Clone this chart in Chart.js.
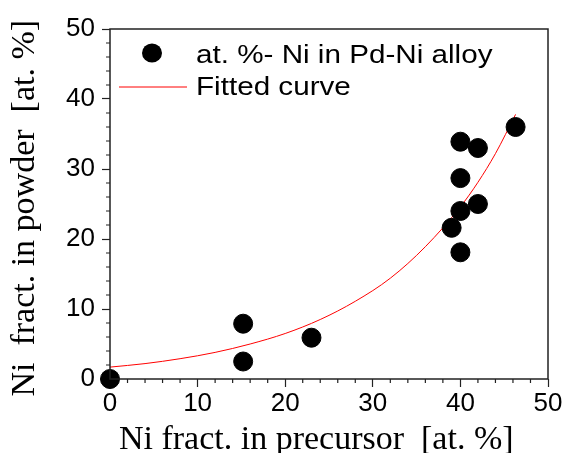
<!DOCTYPE html>
<html>
<head>
<meta charset="utf-8">
<script src="https://cdn.jsdelivr.net/npm/chart.js@4.4.1/dist/chart.umd.min.js"></script>
<style>
  html, body { margin: 0; padding: 0; background: #fff; }
  #wrap { width: 564px; height: 453px; }
</style>
</head>
<body>
<div id="wrap"><canvas id="niChart" width="564" height="453"></canvas></div>
<script>
// measured points: Ni in precursor vs Ni in powder (at. %)
const precursorNi = [0, 15.2, 15.2, 23.0, 39.0, 40.0, 40.0, 40.0, 40.0, 42.0, 42.0, 46.3];
const powderNi = [0, 7.9, 2.5, 5.9, 21.6, 18.1, 24.0, 28.7, 33.9, 33.0, 25.0, 36.0];

// fitted curve
const fitX = [0, 4, 8, 12, 16, 20, 24, 28, 32, 36, 40, 42, 44, 46.3];
const fitY = [1.7, 2.2, 2.9, 3.8, 5.0, 6.5, 8.5, 11.1, 14.4, 18.9, 24.6, 28.1, 32.2, 37.8];

const axisTicks = [0, 10, 20, 30, 40, 50];
const legendLabels = ['at. %- Ni in Pd-Ni alloy', 'Fitted curve'];

const sans = 'Liberation Sans, Arial, sans-serif';
const serif = 'Liberation Serif, Times New Roman, serif';

// box + minor ticks + legend inside the plot
const frameAndLegend = {
    id: 'frameAndLegend',
    afterDraw(chart) {
        const ctx = chart.ctx;
        const a = chart.chartArea;
        const xs = chart.scales.x, ys = chart.scales.y;
        ctx.save();
        ctx.strokeStyle = '#222';
        ctx.lineWidth = 1.5;
        ctx.strokeRect(a.left, a.top, a.right - a.left, a.bottom - a.top);

        // minor ticks every 2
        ctx.lineWidth = 1.2;
        ctx.beginPath();
        for (let v = axisTicks[0]; v <= axisTicks[axisTicks.length - 1]; v += 2) {
            if (v % 10 === 0) continue;
            const px = xs.getPixelForValue(v);
            ctx.moveTo(px, a.bottom);
            ctx.lineTo(px, a.bottom + 4);
            const py = ys.getPixelForValue(v);
            ctx.moveTo(a.left, py);
            ctx.lineTo(a.left - 4, py);
        }
        ctx.stroke();

        // legend
        ctx.fillStyle = '#000';
        ctx.beginPath();
        ctx.ellipse(a.left + 42, a.top + 24, 10, 9.5, 0, 0, Math.PI * 2);
        ctx.fill();
        ctx.strokeStyle = '#ff0000';
        ctx.lineWidth = 1;
        ctx.beginPath();
        ctx.moveTo(a.left + 9, a.top + 58);
        ctx.lineTo(a.left + 77, a.top + 58);
        ctx.stroke();
        // the original text is a bit wide, stretch it
        ctx.font = '26px ' + sans;
        ctx.textBaseline = 'alphabetic';
        ctx.translate(a.left + 86, 0);
        ctx.scale(1.14, 1);
        ctx.fillText(legendLabels[0], 0, a.top + 34);
        ctx.fillText(legendLabels[1], 0, a.top + 66);
        ctx.restore();
    }
};

const ctx = document.getElementById('niChart').getContext('2d');

const niChart = new Chart(ctx, {
    type: 'scatter',
    data: {
        datasets: [{
            label: legendLabels[0],
            data: precursorNi.map((x, i) => ({ x: x, y: powderNi[i] })),
            backgroundColor: '#000',
            borderColor: '#000',
            pointRadius: 9.5,
            pointHoverRadius: 9.5,
            clip: false,
            order: 0
        }, {
            label: legendLabels[1],
            type: 'line',
            data: fitX.map((x, i) => ({ x: x, y: fitY[i] })),
            borderColor: '#ff0000',
            borderWidth: 1,
            pointRadius: 0,
            cubicInterpolationMode: 'monotone',
            fill: false,
            order: 1
        }]
    },
    options: {
        responsive: false,
        animation: false,
        layout: { padding: { left: 0, top: 29, right: 16, bottom: 0 } },
        plugins: {
            legend: { display: false },
            tooltip: { enabled: false }
        },
        scales: {
            x: {
                type: 'linear',
                min: axisTicks[0],
                max: axisTicks[axisTicks.length - 1],
                afterFit: (scale) => { scale.height = 74; },
                border: { display: false },
                grid: { drawOnChartArea: false, tickLength: 8, tickColor: '#222', tickWidth: 1.2 },
                ticks: {
                    stepSize: 10,
                    padding: 1,
                    color: '#000',
                    font: { family: sans, size: 26 },
                    maxRotation: 0
                },
                title: {
                    display: true,
                    // trailing spaces nudge it left like the original
                    text: 'Ni fract. in precursor  [at. %]   ',
                    color: '#000',
                    font: { family: serif, size: 34 },
                    padding: { top: 0, bottom: -7 }
                }
            },
            y: {
                min: axisTicks[0],
                max: axisTicks[axisTicks.length - 1],
                afterFit: (scale) => { scale.width = 110; },
                border: { display: false },
                grid: { drawOnChartArea: false, tickLength: 8, tickColor: '#222', tickWidth: 1.2 },
                ticks: {
                    stepSize: 10,
                    padding: 7,
                    color: '#000',
                    font: { family: sans, size: 26 }
                },
                title: {
                    display: true,
                    text: 'Ni  fract. in powder  [at. %] ',
                    color: '#000',
                    font: { family: serif, size: 34 },
                    padding: { top: 5, bottom: 0 }
                }
            }
        }
    },
    plugins: [frameAndLegend]
});
</script>
</body>
</html>
